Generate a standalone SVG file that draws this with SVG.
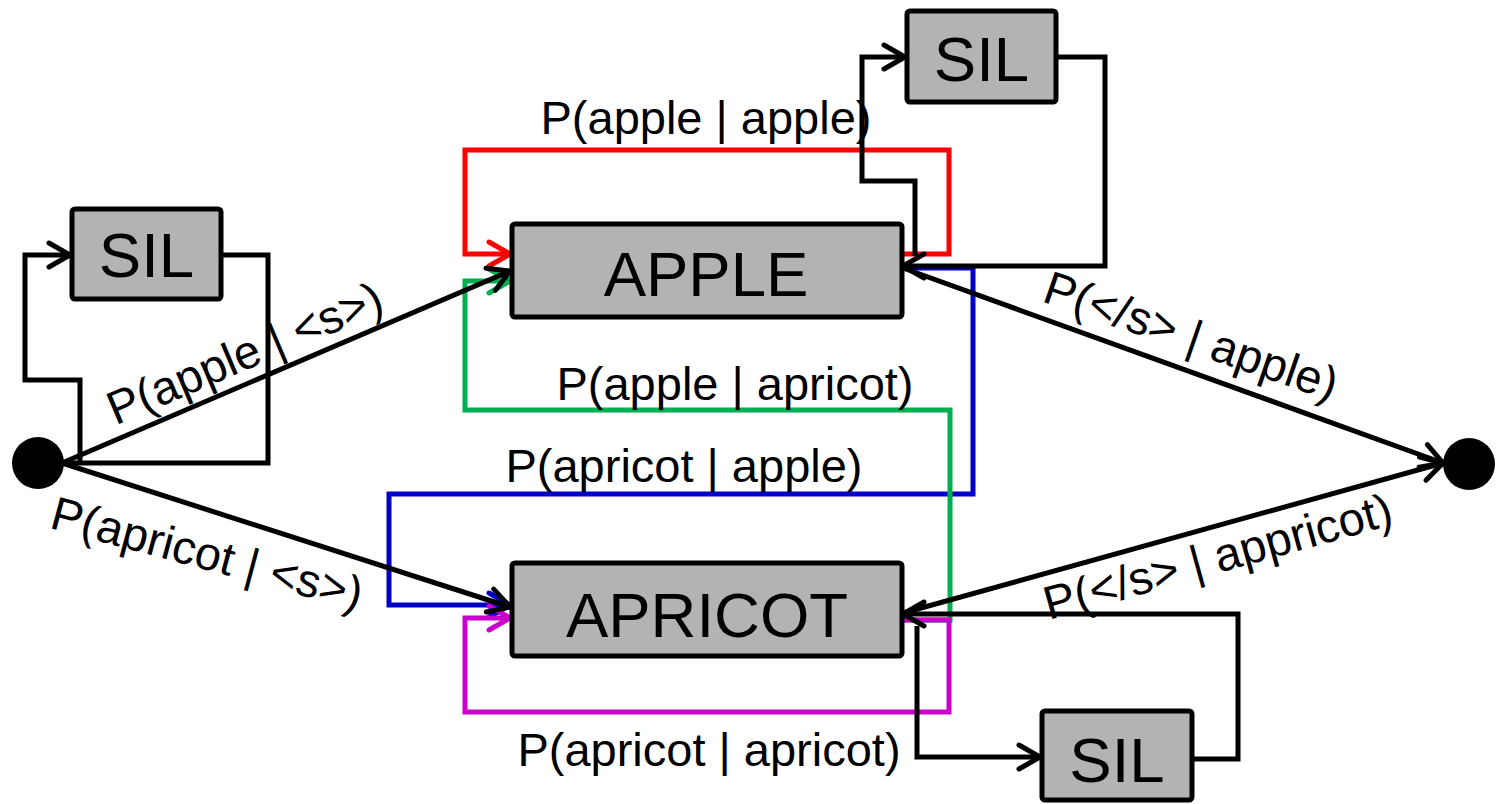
<svg xmlns="http://www.w3.org/2000/svg" width="1498" height="804" viewBox="0 0 1498 804">
  <style>
    .box { fill: #b3b3b3; stroke: #000; stroke-width: 5; }
    .name { font-family: "Liberation Sans", Arial, sans-serif; font-size: 63.5px; fill: #000; text-anchor: middle; }
    .lbl { font-family: "Liberation Sans", Arial, sans-serif; font-size: 47px; fill: #000; text-anchor: middle; }
    .edge { fill: none; stroke-width: 5; stroke-linejoin: miter; }
    .k { stroke: #000; marker-end: url(#ak); }
    .k0 { stroke: #000; }
    .r { stroke: #ff0000; marker-end: url(#ar); }
    .g { stroke: #00b050; marker-end: url(#ag); }
    .b { stroke: #0000c8; marker-end: url(#ab); }
    .m { stroke: #cc00cc; marker-end: url(#am); }
  </style>
  <defs>
    <marker id="ak" markerUnits="userSpaceOnUse" viewBox="-26 -16 30 32" refX="0" refY="0" markerWidth="30" markerHeight="32" orient="auto" overflow="visible">
      <path d="M-21,-12 L0,0 L-21,12" fill="none" stroke="#000" stroke-width="5" stroke-linecap="round"/>
    </marker>
    <marker id="ar" markerUnits="userSpaceOnUse" viewBox="-26 -16 30 32" refX="0" refY="0" markerWidth="30" markerHeight="32" orient="auto" overflow="visible">
      <path d="M-21,-12 L0,0 L-21,12" fill="none" stroke="#ff0000" stroke-width="5" stroke-linecap="round"/>
    </marker>
    <marker id="ag" markerUnits="userSpaceOnUse" viewBox="-26 -16 30 32" refX="0" refY="0" markerWidth="30" markerHeight="32" orient="auto" overflow="visible">
      <path d="M-21,-12 L0,0 L-21,12" fill="none" stroke="#00b050" stroke-width="5" stroke-linecap="round"/>
    </marker>
    <marker id="ab" markerUnits="userSpaceOnUse" viewBox="-26 -16 30 32" refX="0" refY="0" markerWidth="30" markerHeight="32" orient="auto" overflow="visible">
      <path d="M-21,-12 L0,0 L-21,12" fill="none" stroke="#0000c8" stroke-width="5" stroke-linecap="round"/>
    </marker>
    <marker id="am" markerUnits="userSpaceOnUse" viewBox="-26 -16 30 32" refX="0" refY="0" markerWidth="30" markerHeight="32" orient="auto" overflow="visible">
      <path d="M-21,-12 L0,0 L-21,12" fill="none" stroke="#cc00cc" stroke-width="5" stroke-linecap="round"/>
    </marker>
  </defs>

  <rect width="1498" height="804" fill="#fff"/>

  <!-- connectors -->
  <g id="connectors" class="edge">
    <!-- word-to-word transitions -->
    <path class="edge r" d="M902,254 H949 V150 H465 V254 H510"/>
    <path class="edge b" d="M902,268 H973 V494 H389 V605 H510"/>
    <path class="edge g" d="M902,620 H950 V410 H465 V281 H510"/>
    <path class="edge m" d="M902,620 H949 V712 H465 V618 H510"/>

    <!-- silence loop at the start -->
    <path class="edge k0" d="M64,463 H268 V255 H221"/>
    <path class="edge k" d="M80,463 V380 H25 V255 H70"/>

    <!-- silence loop after APPLE -->
    <path class="edge k" d="M1056,57 H1105 V266 H903"/>
    <path class="edge k" d="M915,256 V181 H862 V57 H905"/>

    <!-- silence loop after APRICOT -->
    <path class="edge k" d="M1192,759 H1238 V614 H903"/>
    <path class="edge k" d="M917,626 V757 H1040"/>

    <!-- start and end transitions -->
    <path class="edge k" d="M62,463 L510,271"/>
    <path class="edge k" d="M62,463 L510,607"/>
    <path class="edge k" d="M903,268 L1443,463"/>
    <path class="edge k" d="M903,613 L1443,463"/>
  </g>

  <!-- edge labels -->
  <g id="labels">
    <text class="lbl" x="706" y="134">P(apple | apple)</text>
    <text class="lbl" x="735" y="400">P(apple | apricot)</text>
    <text class="lbl" x="684" y="482">P(apricot | apple)</text>
    <text class="lbl" x="709" y="766">P(apricot | apricot)</text>
    <text class="lbl" transform="translate(251,368) rotate(-23)">P(apple | &lt;s&gt;)</text>
    <text class="lbl" transform="translate(203,569) rotate(15)">P(apricot | &lt;s&gt;)</text>
    <text class="lbl" transform="translate(1186,351) rotate(19)">P(&lt;/s&gt; | apple)</text>
    <text class="lbl" transform="translate(1222,572) rotate(-15.5)">P(&lt;/s&gt; | appricot)</text>
  </g>

  <!-- nodes -->
  <g id="start">
    <circle cx="38" cy="463" r="26" fill="#000"/>
  </g>
  <g id="end">
    <circle cx="1469" cy="464" r="26" fill="#000"/>
  </g>
  <g id="sil-start">
    <rect class="box" x="72" y="209" width="149" height="90" rx="3"/>
    <text class="name" x="146.5" y="277">SIL</text>
  </g>
  <g id="apple">
    <rect class="box" x="512" y="224" width="390" height="93" rx="3"/>
    <text class="name" x="706" y="296">APPLE</text>
  </g>
  <g id="apricot">
    <rect class="box" x="512" y="563" width="390" height="93" rx="3"/>
    <text class="name" x="707" y="637">APRICOT</text>
  </g>
  <g id="sil-apple">
    <rect class="box" x="907" y="11" width="149" height="91" rx="3"/>
    <text class="name" x="981.5" y="81">SIL</text>
  </g>
  <g id="sil-apricot">
    <rect class="box" x="1042" y="711" width="150" height="89" rx="3"/>
    <text class="name" x="1117" y="782">SIL</text>
  </g>
</svg>
